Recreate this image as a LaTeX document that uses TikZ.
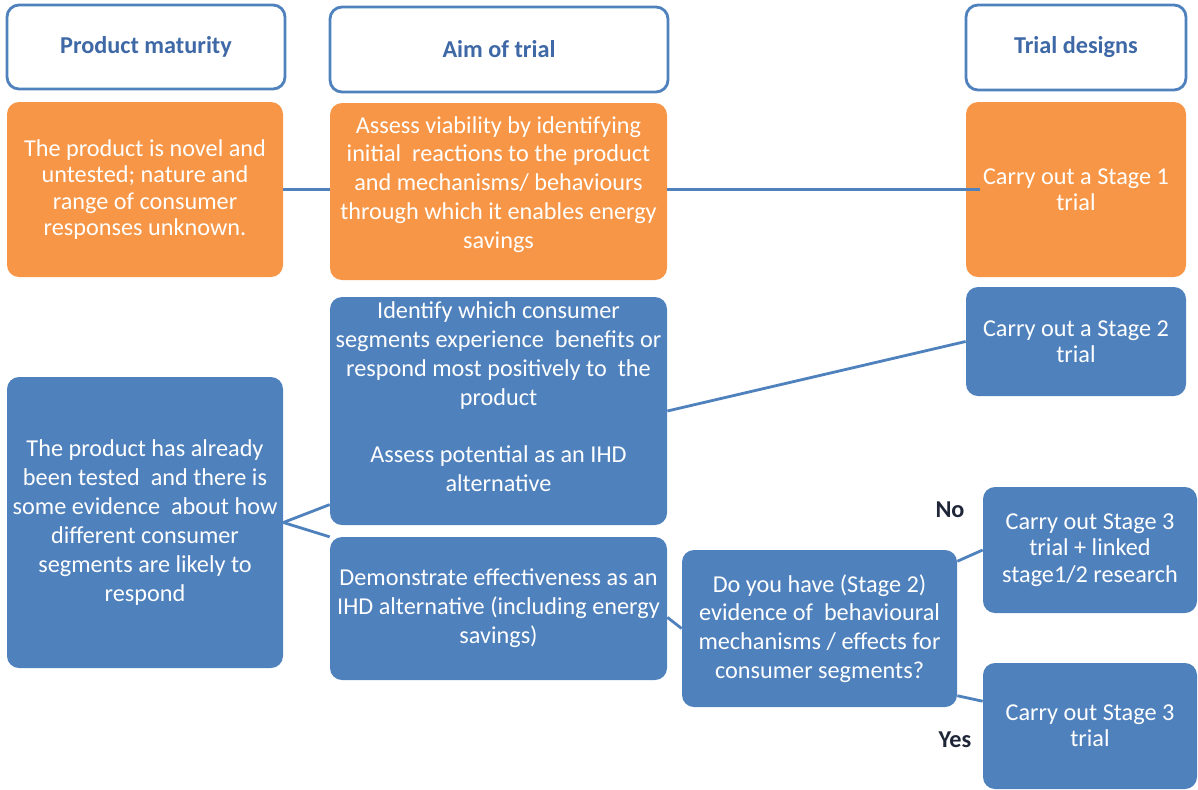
\documentclass[tikz,border=0pt]{standalone}
\usepackage{fontspec}
\setmainfont{Carlito}
\usepackage{tikz}
\definecolor{orng}{RGB}{247,150,70}
\definecolor{blu}{RGB}{79,129,189}
\definecolor{hdblu}{RGB}{62,104,166}
\definecolor{lbldark}{RGB}{30,38,56}

\begin{document}
\begin{tikzpicture} [x=0.02cm, y=-0.02cm,
	box/.style 2 args = {rectangle, rounded corners=0.24cm, minimum width=#1*0.02cm, minimum height=#2*0.02cm, inner sep=0pt, align=center},
	head/.style = {draw=blu, line width=1.6pt, fill=white, text=hdblu, font=\bfseries\fontsize{13.8}{15}\selectfont},
	obox/.style = {fill=orng, text=white},
	bbox/.style = {fill=blu, text=white},
	tight/.style = {font=\fontsize{13.8}{15}\selectfont},
	loose/.style = {font=\fontsize{13.8}{16.4}\selectfont},
	link/.style = {draw=blu, line width=1.6pt},
	yesno/.style = {text=lbldark, font=\bfseries\fontsize{13.8}{15}\selectfont}]
	\useasboundingbox (0,0) rectangle (1198,789);
	%\draw [thin, help lines] (0,0) grid (1198,789);

	% column heads
	\node [head, box={278}{84}] (hdpm) at (146,47) {Product maturity};
	\node [head, box={338}{85}] (hdaim) at (499,49.5) {Aim of trial};
	\node [head, box={220}{85}] (hdtd) at (1076,47.5) {Trial designs};

	% stage 1 row
	\node [obox, tight, box={276}{175}] (pmnew) at (145,189.5) {The product is novel and\\untested; nature and\\range of consumer\\responses unknown.};
	\node [obox, loose, box={337}{177}] (aimnew) at (498.5,191.5) {Assess viability by identifying\\initial\ \ reactions to the product\\and mechanisms/ behaviours\\through which it enables energy\\savings\\[-6pt]\mbox{}};
	\node [obox, tight, box={220}{175}] (stone) at (1076,189.5) {Carry out a Stage 1\\trial};

	% tested product
	\node [bbox, tight, box={220}{109}] (sttwo) at (1076,341.5) {Carry out a Stage 2\\trial};
	\node [bbox, loose, box={276}{291}] (pmtest) at (145,522.5) {The product has already\\been tested\ \ and there is\\some evidence\ \ about how\\different consumer\\segments are likely to\\respond};
	\node [bbox, loose, box={337}{228}] (aimseg) at (498.5,411) {Identify which consumer\\segments experience\ \ benefits or\\respond most positively to\ \ the\\product\\[16pt]Assess potential as an IHD\\alternative\\ \mbox{}};
	\node [bbox, loose, box={337}{143}] (aimihd) at (498.5,608.5) {Demonstrate effectiveness as an\\IHD alternative (including energy\\savings)};
	\node [bbox, loose, box={275}{157}] (quest) at (819.5,628.5) {Do you have (Stage 2)\\evidence of\ \ behavioural\\mechanisms / effects for\\consumer segments?};
	\node [bbox, tight, box={214}{126}] (stthreea) at (1090,550) {Carry out Stage 3\\trial + linked\\stage1/2 research};
	\node [bbox, tight, box={214}{126}] (stthreeb) at (1090,726) {Carry out Stage 3\\trial};

	\node [yesno] (lblno) at (950,510) {No};
	\node [yesno] (lblyes) at (955,740) {Yes};

	% connectors
	\draw [link] (pmnew.east) -- (pmnew.east -| aimnew.west);
	\draw [link] (pmnew.east -| aimnew.east) -- ([xshift=0.28cm] pmnew.east -| stone.west);
	\draw [link] (aimseg.east) -- (sttwo.west);
	\draw [link] (pmtest.east) -- (aimseg.209);
	\draw [link] (pmtest.east) -- (aimihd.157);
	\draw [link] (aimihd.-3) -- (quest.west);
	\draw [link] (quest.26) -- (stthreea.west);
	\draw [link] (quest.-26) -- (stthreeb.167);
\end{tikzpicture}
\end{document}
